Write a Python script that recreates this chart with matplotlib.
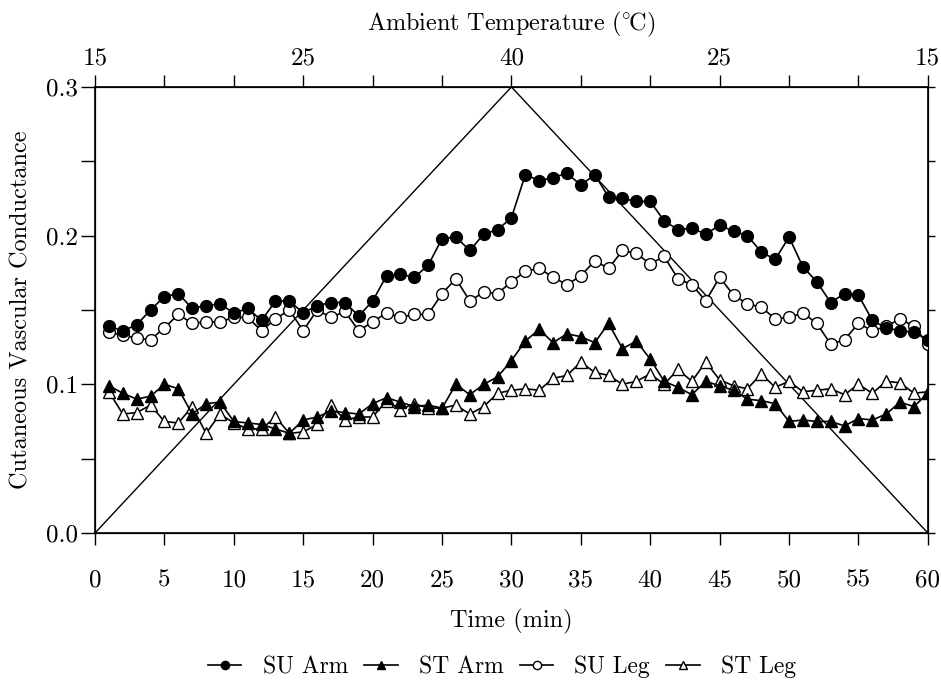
import numpy as np
import matplotlib
matplotlib.use("Agg")
import matplotlib.pyplot as plt

plt.rcParams['font.family'] = ['cmr10', 'DejaVu Serif']
plt.rcParams['mathtext.fontset'] = 'cm'
plt.rcParams['axes.formatter.use_mathtext'] = True

time = np.arange(1, 61)

su_arm = [0.139, 0.136, 0.140, 0.150, 0.159, 0.161, 0.151, 0.153, 0.154, 0.148,
          0.151, 0.143, 0.156, 0.156, 0.148, 0.153, 0.155, 0.155, 0.146, 0.156,
          0.173, 0.174, 0.172, 0.180, 0.198, 0.199, 0.190, 0.201, 0.204, 0.212,
          0.241, 0.237, 0.239, 0.242, 0.234, 0.241, 0.226, 0.225, 0.223, 0.223,
          0.210, 0.204, 0.205, 0.201, 0.207, 0.203, 0.200, 0.189, 0.184, 0.199,
          0.179, 0.169, 0.155, 0.161, 0.160, 0.143, 0.138, 0.136, 0.135, 0.130]

st_arm = [0.099, 0.094, 0.090, 0.092, 0.100, 0.097, 0.080, 0.087, 0.088, 0.075,
          0.074, 0.073, 0.070, 0.067, 0.076, 0.078, 0.082, 0.081, 0.080, 0.087,
          0.091, 0.088, 0.085, 0.086, 0.084, 0.100, 0.093, 0.100, 0.105, 0.116,
          0.129, 0.137, 0.128, 0.134, 0.132, 0.128, 0.141, 0.124, 0.129, 0.117,
          0.102, 0.098, 0.093, 0.102, 0.099, 0.096, 0.090, 0.089, 0.087, 0.075,
          0.076, 0.075, 0.075, 0.072, 0.077, 0.076, 0.080, 0.088, 0.085, 0.094]

su_leg = [0.135, 0.133, 0.131, 0.130, 0.138, 0.147, 0.141, 0.142, 0.142, 0.145,
          0.145, 0.136, 0.144, 0.150, 0.136, 0.150, 0.145, 0.149, 0.136, 0.142,
          0.148, 0.145, 0.147, 0.147, 0.161, 0.171, 0.156, 0.162, 0.161, 0.169,
          0.176, 0.178, 0.172, 0.167, 0.173, 0.183, 0.178, 0.190, 0.188, 0.181,
          0.186, 0.171, 0.167, 0.156, 0.172, 0.160, 0.154, 0.152, 0.144, 0.145,
          0.148, 0.141, 0.127, 0.130, 0.141, 0.136, 0.139, 0.144, 0.139, 0.127]

st_leg = [0.095, 0.080, 0.081, 0.086, 0.075, 0.074, 0.085, 0.067, 0.080, 0.074,
          0.070, 0.070, 0.078, 0.067, 0.068, 0.073, 0.086, 0.076, 0.078, 0.078,
          0.089, 0.083, 0.087, 0.084, 0.084, 0.086, 0.080, 0.085, 0.094, 0.096,
          0.097, 0.096, 0.104, 0.106, 0.115, 0.108, 0.106, 0.100, 0.102, 0.107,
          0.100, 0.110, 0.102, 0.115, 0.103, 0.099, 0.097, 0.107, 0.098, 0.102,
          0.095, 0.096, 0.097, 0.093, 0.100, 0.094, 0.102, 0.101, 0.094, 0.095]

# ramp of ambient temperature drawn on the same axes
ramp_t = [0, 30, 60]
ramp_y = [0.0, 0.3, 0.0]

top_ticks = np.arange(0, 61, 5)
top_labels = ['15', '', '', '25', '', '', '40', '', '', '25', '', '', '15']

fig = plt.figure(figsize=(9.41, 6.82), dpi=100)
ax = fig.add_axes([0.101, 0.2185, 0.885, 0.654])

ax.plot(ramp_t, ramp_y, color='black', lw=1.0, zorder=1)
ax.plot(time, st_leg, '-^', color='black', lw=1.2, ms=8, mfc='white', mec='black', mew=1.0,
        label='ST Leg', zorder=2)
ax.plot(time, su_leg, '-o', color='black', lw=1.2, ms=8.5, mfc='white', mec='black', mew=1.0,
        label='SU Leg', zorder=3)
ax.plot(time, st_arm, '-^', color='black', lw=1.2, ms=8, mfc='black', mec='black',
        label='ST Arm', zorder=4)
ax.plot(time, su_arm, '-o', color='black', lw=1.2, ms=8.5, mfc='black', mec='black',
        label='SU Arm', zorder=5)

ax.set_xlim(0, 60)
ax.set_ylim(0, 0.3)
ax.set_xticks(np.arange(0, 61, 5))
ax.set_xticklabels([str(v) for v in range(0, 61, 5)])
ax.set_yticks([0.0, 0.1, 0.2, 0.3])
ax.set_yticklabels(['0.0', '0.1', '0.2', '0.3'])
ax.set_yticks(np.arange(0.05, 0.3, 0.1), minor=True)
ax.tick_params(axis='x', direction='out', length=8.5, width=1.0, pad=18, labelsize=18)
ax.tick_params(axis='y', which='both', direction='out', length=10, width=1.0, labelsize=18,
               pad=2)
for s in ax.spines.values():
    s.set_linewidth(1.2)

ax.set_xlabel('Time (min)', fontsize=17.5, labelpad=12)
ax.set_ylabel('Cutaneous Vascular Conductance', fontsize=17.5, labelpad=10)

right = ax.twinx()
right.set_ylim(0, 0.3)
right.set_yticks(np.arange(0.0, 0.31, 0.05))
right.set_yticklabels([])
right.tick_params(axis='y', direction='out', length=5, width=1.0)

top = ax.twiny()
top.set_xlim(0, 60)
top.set_xticks(top_ticks)
top.set_xticklabels(top_labels)
top.tick_params(axis='x', direction='out', length=8.5, width=1.0, pad=4, labelsize=18)
top.set_xlabel(r'$\mathrm{Ambient\ Temperature\ (^{\circ}\!C)}$', fontsize=17.5, labelpad=12)

h, l = ax.get_legend_handles_labels()
order = [3, 2, 1, 0]
fig.legend([h[i] for i in order], [l[i] for i in order], loc='center',
           bbox_to_anchor=(0.5335, 0.022), ncol=4, frameon=False, fontsize=17,
           handlelength=1.4, columnspacing=0.7, handletextpad=0.9, markerscale=0.7)

fig.savefig('out.png', dpi=100)
